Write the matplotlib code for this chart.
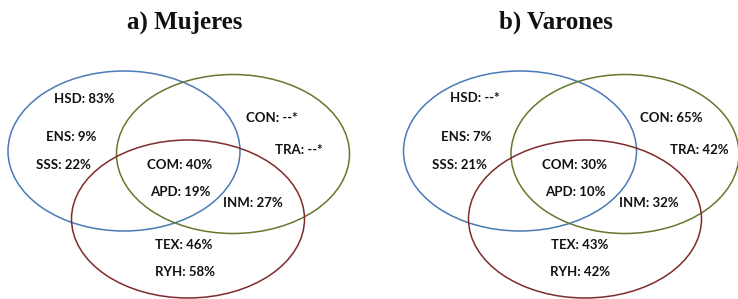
import matplotlib.pyplot as plt
from matplotlib.patches import Ellipse

# panel titles
titles = ["a) Mujeres", "b) Varones"]

# category codes shown in each region of the diagram
codes = ["HSD", "CON", "ENS", "TRA", "SSS", "COM", "APD", "INM", "TEX", "RYH"]

# percentages per panel ("--*" = not available)
mujeres = ["83%", "--*", "9%", "--*", "22%", "40%", "19%", "27%", "46%", "58%"]
varones = ["--*", "65%", "7%", "42%", "21%", "30%", "10%", "32%", "43%", "42%"]

# layout (pixel coords, origin top-left), left panel; right panel shifted
label_xy = [(84, 99), (272, 118), (71, 137), (299, 150), (63, 165),
            (180, 165), (180, 192), (253, 203), (184, 245), (185, 272)]
label_xy_b = [(475, 98), (671, 118), (466, 137), (699, 150), (459, 165),
              (575, 165), (575, 192), (649, 203), (580, 245), (580, 272)]

ellipses_a = [((124, 151), 232, 160, "#4a7ab5"),
              ((233, 154), 233, 159, "#66782e"),
              ((188, 219), 233, 158, "#7f2b2b")]
ellipses_b = [((520, 151), 233, 160, "#4a7ab5"),
              ((625, 154), 228, 159, "#66782e"),
              ((585, 219), 233, 158, "#7f2b2b")]
title_xy = [(185, 22), (556, 22)]

W, H = 738, 299
fig = plt.figure(figsize=(W / 100, H / 100), dpi=100)
ax = fig.add_axes([0, 0, 1, 1])
ax.set_xlim(0, W)
ax.set_ylim(H, 0)
ax.axis("off")

for ells in (ellipses_a, ellipses_b):
    for c, w, h, col in ells:
        ax.add_patch(Ellipse(c, w, h, fill=False, edgecolor=col, linewidth=1.1))

for t, (x, y) in zip(titles, title_xy):
    ax.text(x, y, t, ha="center", va="center", fontsize=18,
            fontweight="bold", family="Liberation Serif", color="#111111")

for vals, pos in ((mujeres, label_xy), (varones, label_xy_b)):
    for code, v, (x, y) in zip(codes, vals, pos):
        ax.text(x, y, f"{code}: {v}", ha="center", va="center", fontsize=9.5,
                fontweight="bold", family="Lato", color="#111111")

fig.savefig("out.png", dpi=100)
